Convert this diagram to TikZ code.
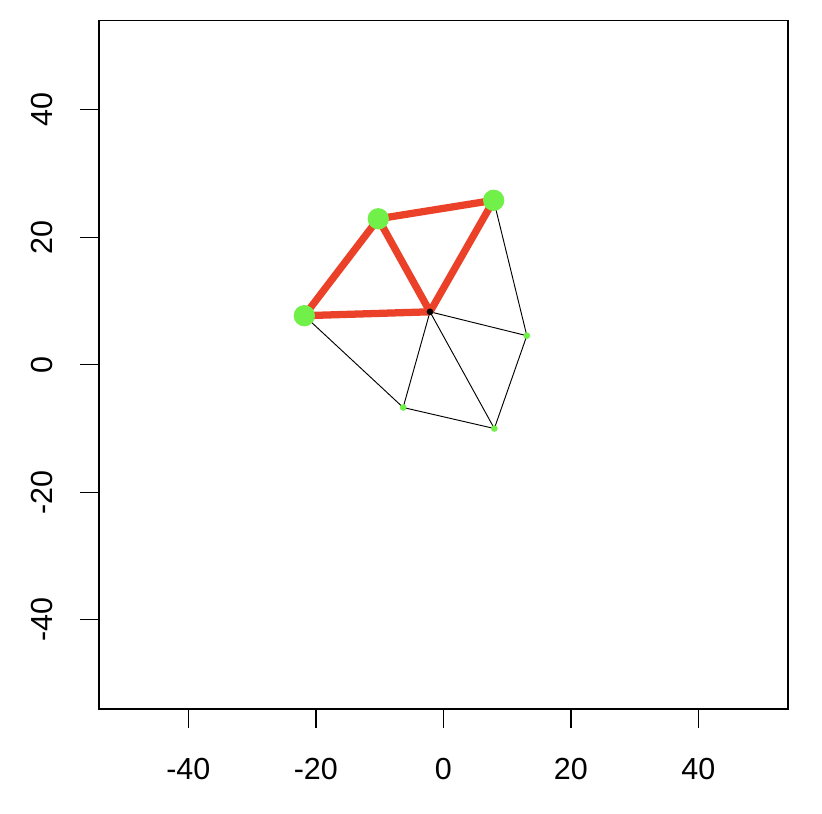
\documentclass[tikz,border=0pt]{standalone}
\usepackage{fontspec}
\setmainfont{Liberation Sans}
\usetikzlibrary{backgrounds}
\definecolor{edgered}{RGB}{234,65,40}
\definecolor{ptgreen}{RGB}{114,240,74}

\begin{document}
\begin{tikzpicture}[x=0.19125cm,y=0.19125cm,
    ticklabel/.style={font=\fontsize{26}{30}\selectfont, inner sep=0pt}]
  \useasboundingbox (-69.54,-70.46) rectangle (59.40,57.22);

  % frame and axes
  \draw[line width=1.6pt] (-54,-54) rectangle (54,54);
  \foreach \v [count=\i] in {-40,-20,0,20,40} {
    \draw[line width=1.2pt] (\v,-54) -- (\v,-57);
    \draw[line width=1.2pt] (-54,\v) -- (-57,\v);
    \node[ticklabel] (xl\i) at (\v,-63.4) {\v};
    \node[ticklabel, rotate=90] (yl\i) at (-62.95,\v) {\v};
  }

  \begin{scope}[every node/.style={circle, fill=ptgreen, inner sep=0pt, minimum size=0.2cm}]
    \node (1) at (-2.09,8.31) [fill=black] {};
    \node (2) at (-21.8,7.7)  [minimum size=0.64cm] {};
    \node (3) at (-10.2,22.9) [minimum size=0.64cm] {};
    \node (4) at (7.9,25.8)   [minimum size=0.64cm] {};
    \node (5) at (13.1,4.56)  {};
    \node (6) at (8.0,-10.0)  {};
    \node (7) at (-6.3,-6.7)  {};
  \end{scope}

  \begin{scope}[on background layer]
    \begin{scope}[every edge/.style={draw, line width=0.8pt}]
      \path (4.center) edge (5.center);
      \path (1.center) edge (5.center);
      \path (1.center) edge (6.center);
      \path (1.center) edge (7.center);
      \path (5.center) edge (6.center);
      \path (6.center) edge (7.center);
      \path (7.center) edge (2.center);
    \end{scope}
    \begin{scope}[every edge/.style={draw=edgered, line width=6.2pt}]
      \path (2.center) edge (3.center);
      \path (3.center) edge (4.center);
      \path (3.center) edge (1.center);
      \path (4.center) edge (1.center);
      \path (2.center) edge (1.center);
    \end{scope}
  \end{scope}

\end{tikzpicture}
\end{document}
